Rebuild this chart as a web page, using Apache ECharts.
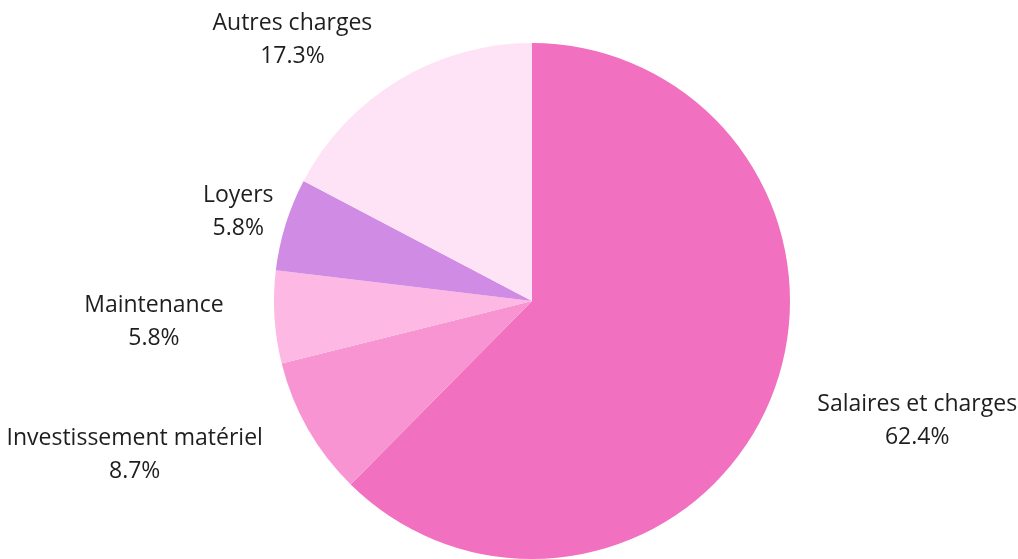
<!DOCTYPE html>
<html>
<head>
<meta charset="utf-8">
<script src="https://cdn.jsdelivr.net/npm/echarts@6/dist/echarts.min.js"></script>
<style>
html,body{margin:0;padding:0;background:#fff;}
#chart{width:1018px;height:559px;}
</style>
</head>
<body>
<div id="chart"></div>
<script>
const categories = ["Salaires et charges", "Investissement matériel", "Maintenance", "Loyers", "Autres charges"];
const values = [62.4, 8.7, 5.8, 5.8, 17.3];
const colors = ["#f170c0", "#f794d1", "#fdb8e3", "#d08be5", "#fde3f5"];
// label placement tweaks (radial offset, horizontal offset)
const labelLen = [58, 53, 76, 43, 47];
const labelLen2 = [-12, -6, -30, -34, -3];

const chart = echarts.init(document.getElementById('chart'), null, {renderer: 'canvas'});
const data = categories.map((c, i) => ({
  name: c,
  value: values[i],
  itemStyle: {color: colors[i]},
  labelLine: {show: false, length: labelLen[i], length2: labelLen2[i]}
}));
chart.setOption({
  animation: false,
  backgroundColor: '#ffffff',
  series: [{
    type: 'pie',
    center: [532, 301],
    radius: 258,
    startAngle: 90,
    clockwise: true,
    avoidLabelOverlap: false,
    percentPrecision: 1,
    data: data,
    itemStyle: {borderWidth: 0},
    emphasis: {disabled: true},
    label: {
      show: true,
      position: 'outside',
      distanceToLabelLine: 5,
      formatter: '{n|{b}}\n{n|{d}%}',
      color: '#1e1e1e',
      fontFamily: 'Open Sans',
      fontSize: 23,
      rich: {
        n: {fontFamily: 'Open Sans', fontSize: 23, color: '#1e1e1e', lineHeight: 33, align: 'center'}
      }
    },
    labelLine: {show: false}
  }]
});
</script>
</body>
</html>
